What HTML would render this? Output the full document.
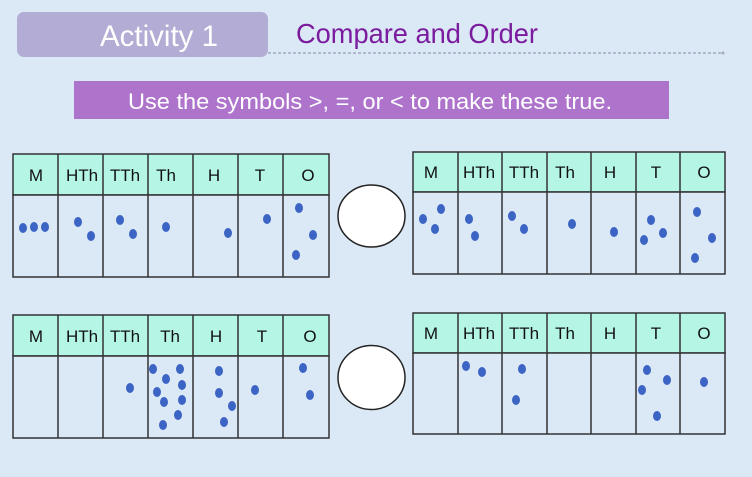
<!DOCTYPE html>
<html><head><meta charset="utf-8"><style>
html,body{margin:0;padding:0;background:#dbe9f6;}
svg{display:block;}
text{font-family:"Liberation Sans",sans-serif;}
.h{font-size:17px;fill:#111;text-anchor:middle;}
.g rect.hd{fill:#b4f5e6;}
</style></head><body>
<svg width="752" height="477" viewBox="0 0 752 477" xmlns="http://www.w3.org/2000/svg">
<rect width="752" height="477" fill="#dbe9f6"/>
<rect x="17" y="12" width="251" height="45" rx="7" fill="#b3acd4"/>
<text x="159" y="46" font-size="30" fill="#fff" text-anchor="middle" textLength="118" lengthAdjust="spacingAndGlyphs">Activity 1</text>
<text x="296" y="43" font-size="28" fill="#7b1b9e" textLength="242" lengthAdjust="spacingAndGlyphs">Compare and Order</text>
<line x1="268" y1="53" x2="722" y2="53" stroke="#a8a8c0" stroke-width="1.5" stroke-dasharray="3,2"/>
<circle cx="723" cy="53" r="1.5" fill="#a8a8c0"/>
<rect x="74" y="81" width="595" height="38" fill="#ae74cc"/>
<text x="370" y="109" font-size="22" fill="#fff" text-anchor="middle" textLength="484" lengthAdjust="spacingAndGlyphs">Use the symbols &gt;, =, or &lt; to make these true.</text>

<!-- Table 1 -->
<g stroke="#333" stroke-width="1.5">
<rect x="13" y="154" width="316" height="41" fill="#b4f5e6"/>
<rect x="13" y="195" width="316" height="82" fill="#dbe9f6"/>
<path d="M58 154V277M103 154V277M148 154V277M193 154V277M238 154V277M283 154V277" fill="none"/>
<rect x="413" y="152" width="312" height="40" fill="#b4f5e6"/>
<rect x="413" y="192" width="312" height="82" fill="#dbe9f6"/>
<path d="M458 152V274M502 152V274M547 152V274M591 152V274M636 152V274M680 152V274" fill="none"/>
<rect x="13" y="315" width="316" height="41" fill="#b4f5e6"/>
<rect x="13" y="356" width="316" height="82" fill="#dbe9f6"/>
<path d="M58 315V438M103 315V438M148 315V438M193 315V438M238 315V438M283 315V438" fill="none"/>
<rect x="413" y="313" width="312" height="40" fill="#b4f5e6"/>
<rect x="413" y="353" width="312" height="81" fill="#dbe9f6"/>
<path d="M458 313V434M502 313V434M547 313V434M591 313V434M636 313V434M680 313V434" fill="none"/>
</g>
<g class="h">
<text class="h" x="36" y="181">M</text><text class="h" x="82" y="181">HTh</text><text class="h" x="125" y="181">TTh</text><text class="h" x="166" y="181">Th</text><text class="h" x="214" y="181">H</text><text class="h" x="260" y="181">T</text><text class="h" x="308" y="181">O</text>
<text class="h" x="431" y="178">M</text><text class="h" x="479" y="178">HTh</text><text class="h" x="524" y="178">TTh</text><text class="h" x="565" y="178">Th</text><text class="h" x="610" y="178">H</text><text class="h" x="656" y="178">T</text><text class="h" x="704" y="178">O</text>
<text class="h" x="36" y="342">M</text><text class="h" x="82" y="342">HTh</text><text class="h" x="125" y="342">TTh</text><text class="h" x="170" y="342">Th</text><text class="h" x="216" y="342">H</text><text class="h" x="262" y="342">T</text><text class="h" x="310" y="342">O</text>
<text class="h" x="431" y="339">M</text><text class="h" x="479" y="339">HTh</text><text class="h" x="524" y="339">TTh</text><text class="h" x="565" y="339">Th</text><text class="h" x="610" y="339">H</text><text class="h" x="656" y="339">T</text><text class="h" x="704" y="339">O</text>
</g>
<ellipse cx="371.5" cy="216" rx="33.5" ry="31" fill="#fff" stroke="#222" stroke-width="1.5"/>
<ellipse cx="371.5" cy="377.5" rx="33.5" ry="32" fill="#fff" stroke="#222" stroke-width="1.5"/>
<g fill="#3c64c4">
<ellipse cx="23" cy="228" rx="4" ry="5"/><ellipse cx="34" cy="227" rx="4" ry="5"/><ellipse cx="45" cy="227" rx="4" ry="5"/>
<ellipse cx="78" cy="222" rx="4" ry="5"/><ellipse cx="91" cy="236" rx="4" ry="5"/>
<ellipse cx="120" cy="220" rx="4" ry="5"/><ellipse cx="133" cy="234" rx="4" ry="5"/>
<ellipse cx="166" cy="227" rx="4" ry="5"/><ellipse cx="228" cy="233" rx="4" ry="5"/><ellipse cx="267" cy="219" rx="4" ry="5"/>
<ellipse cx="299" cy="208" rx="4" ry="5"/><ellipse cx="313" cy="235" rx="4" ry="5"/><ellipse cx="296" cy="255" rx="4" ry="5"/>

<ellipse cx="423" cy="219" rx="4" ry="5"/><ellipse cx="441" cy="209" rx="4" ry="5"/><ellipse cx="435" cy="229" rx="4" ry="5"/>
<ellipse cx="469" cy="219" rx="4" ry="5"/><ellipse cx="475" cy="236" rx="4" ry="5"/>
<ellipse cx="512" cy="216" rx="4" ry="5"/><ellipse cx="524" cy="229" rx="4" ry="5"/>
<ellipse cx="572" cy="224" rx="4" ry="5"/><ellipse cx="614" cy="232" rx="4" ry="5"/>
<ellipse cx="651" cy="220" rx="4" ry="5"/><ellipse cx="663" cy="233" rx="4" ry="5"/><ellipse cx="644" cy="240" rx="4" ry="5"/>
<ellipse cx="697" cy="212" rx="4" ry="5"/><ellipse cx="712" cy="238" rx="4" ry="5"/><ellipse cx="695" cy="258" rx="4" ry="5"/>

<ellipse cx="130" cy="388" rx="4" ry="5"/>
<ellipse cx="153" cy="369" rx="4" ry="5"/><ellipse cx="180" cy="369" rx="4" ry="5"/><ellipse cx="166" cy="379" rx="4" ry="5"/><ellipse cx="157" cy="392" rx="4" ry="5"/><ellipse cx="182" cy="385" rx="4" ry="5"/><ellipse cx="164" cy="402" rx="4" ry="5"/><ellipse cx="182" cy="400" rx="4" ry="5"/><ellipse cx="178" cy="415" rx="4" ry="5"/><ellipse cx="163" cy="425" rx="4" ry="5"/>
<ellipse cx="219" cy="371" rx="4" ry="5"/><ellipse cx="219" cy="393" rx="4" ry="5"/><ellipse cx="232" cy="406" rx="4" ry="5"/><ellipse cx="224" cy="422" rx="4" ry="5"/>
<ellipse cx="255" cy="390" rx="4" ry="5"/>
<ellipse cx="303" cy="368" rx="4" ry="5"/><ellipse cx="310" cy="395" rx="4" ry="5"/>

<ellipse cx="466" cy="366" rx="4" ry="5"/><ellipse cx="482" cy="372" rx="4" ry="5"/>
<ellipse cx="522" cy="369" rx="4" ry="5"/><ellipse cx="516" cy="400" rx="4" ry="5"/>
<ellipse cx="647" cy="370" rx="4" ry="5"/><ellipse cx="667" cy="380" rx="4" ry="5"/><ellipse cx="642" cy="390" rx="4" ry="5"/><ellipse cx="657" cy="416" rx="4" ry="5"/>
<ellipse cx="704" cy="382" rx="4" ry="5"/>
</g>
</svg>
</body></html>
